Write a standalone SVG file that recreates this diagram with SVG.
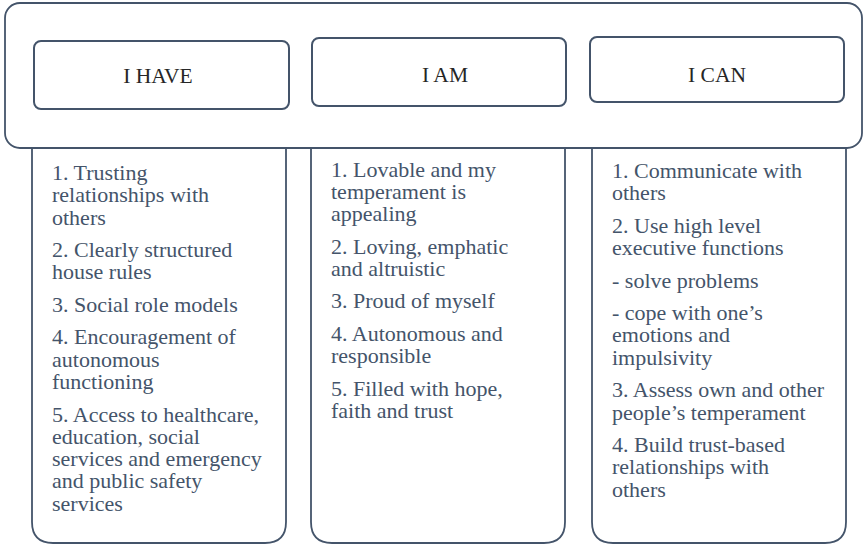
<svg xmlns="http://www.w3.org/2000/svg" width="864" height="545" viewBox="0 0 864 545">
<style>
.box{fill:#fff;stroke:#44546a;stroke-width:1.8}
.hdr{fill:#fff;stroke:#44546a;stroke-width:2}
.ht{font-family:"Liberation Serif","Times New Roman",serif;font-size:21.5px;fill:#262626;text-anchor:middle}
.bt{font-family:"Liberation Serif","Times New Roman",serif;font-size:22px;fill:#44546a}
</style>
<rect width="864" height="545" fill="#fff"/>
<g id="frame">
<rect class="box" x="5" y="3" width="857" height="145" rx="15" ry="15"/>
</g>
<g id="col-have">
<path class="box" d="M32,148 L286,148 L286,522 Q286,543 265,543 L53,543 Q32,543 32,522 Z"/>
<text class="bt">
<tspan x="52" y="180">1. Trusting</tspan>
<tspan x="52" y="202.3">relationships with</tspan>
<tspan x="52" y="224.6">others</tspan>
<tspan x="52" y="257.1">2. Clearly structured</tspan>
<tspan x="52" y="279.4">house rules</tspan>
<tspan x="52" y="311.9">3. Social role models</tspan>
<tspan x="52" y="344.4">4. Encouragement of</tspan>
<tspan x="52" y="366.7">autonomous</tspan>
<tspan x="52" y="389">functioning</tspan>
<tspan x="52" y="421.5">5. Access to healthcare,</tspan>
<tspan x="52" y="443.8">education, social</tspan>
<tspan x="52" y="466.1">services and emergency</tspan>
<tspan x="52" y="488.4">and public safety</tspan>
<tspan x="52" y="510.7">services</tspan>
</text>
</g>
<g id="col-am">
<path class="box" d="M311,148 L565,148 L565,522 Q565,543 544,543 L332,543 Q311,543 311,522 Z"/>
<text class="bt">
<tspan x="331" y="176.5">1. Lovable and my</tspan>
<tspan x="331" y="198.8">temperament is</tspan>
<tspan x="331" y="221.1">appealing</tspan>
<tspan x="331" y="253.6">2. Loving, emphatic</tspan>
<tspan x="331" y="275.9">and altruistic</tspan>
<tspan x="331" y="308.4">3. Proud of myself</tspan>
<tspan x="331" y="340.9">4. Autonomous and</tspan>
<tspan x="331" y="363.2">responsible</tspan>
<tspan x="331" y="395.7">5. Filled with hope,</tspan>
<tspan x="331" y="418">faith and trust</tspan>
</text>
</g>
<g id="col-can">
<path class="box" d="M592,148 L846,148 L846,522 Q846,543 825,543 L613,543 Q592,543 592,522 Z"/>
<text class="bt">
<tspan x="612" y="178">1. Communicate with</tspan>
<tspan x="612" y="200.3">others</tspan>
<tspan x="612" y="232.8">2. Use high level</tspan>
<tspan x="612" y="255.1">executive functions</tspan>
<tspan x="612" y="287.6">- solve problems</tspan>
<tspan x="612" y="320.1">- cope with one’s</tspan>
<tspan x="612" y="342.4">emotions and</tspan>
<tspan x="612" y="364.7">impulsivity</tspan>
<tspan x="612" y="397.2">3. Assess own and other</tspan>
<tspan x="612" y="419.5">people’s temperament</tspan>
<tspan x="612" y="452">4. Build trust-based</tspan>
<tspan x="612" y="474.3">relationships with</tspan>
<tspan x="612" y="496.6">others</tspan>
</text>
</g>
<g id="hdr-have">
<rect class="hdr" x="34" y="41" width="255" height="68" rx="7" ry="7"/>
<text class="ht" x="158" y="83">I HAVE</text>
</g>
<g id="hdr-am">
<rect class="hdr" x="312" y="38" width="254" height="68" rx="7" ry="7"/>
<text class="ht" x="445" y="81.5">I AM</text>
</g>
<g id="hdr-can">
<rect class="hdr" x="590" y="37" width="254" height="65" rx="7" ry="7"/>
<text class="ht" x="717" y="81.5">I CAN</text>
</g>
</svg>
